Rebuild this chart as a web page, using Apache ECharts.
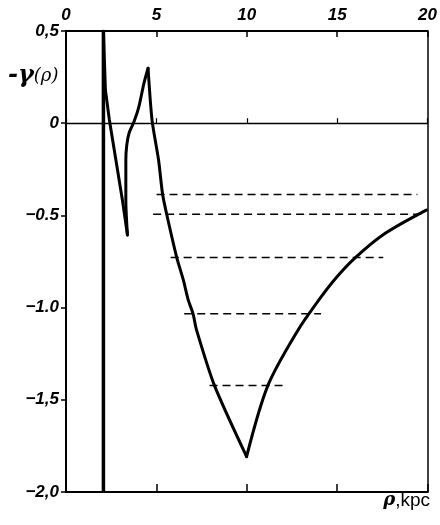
<!DOCTYPE html>
<html>
<head>
<meta charset="utf-8">
<script src="https://cdn.jsdelivr.net/npm/echarts@6/dist/echarts.min.js"></script>
<style>
html,body{margin:0;padding:0;background:#fff;}
#chart{width:440px;height:525px;}
</style>
</head>
<body>
<div id="chart"></div>
<script>
// ---- data ----
const xTickValues = [0, 5, 10, 15, 20];
const xTickLabels = ['0', '5', '10', '15', '20'];
const yTickValues = [0.5, 0, -0.5, -1, -1.5, -2];
const yTickLabels = ['0,5', '0', '\u22120.5', '\u22121.0', '\u22121,5', '\u22122,0'];

const barrierRho = 2.07;
const barrierGamma = [0.5, -2.0];

// curve branches (rho, -gamma)
const branch1Rho = [2.07, 2.18, 2.40, 2.76, 3.12, 3.40];
const branch1Gamma = [0.50, 0.18, 0.017, -0.20, -0.416, -0.606];
const branch2Rho = [3.40, 3.31, 3.31, 3.36, 3.49, 3.76, 4.03, 4.31, 4.54];
const branch2Gamma = [-0.606, -0.416, -0.20, -0.12, -0.053, 0.008, 0.089, 0.216, 0.298];
const branch3Rho = [4.54, 4.76, 5.12, 5.34, 5.57, 6.12, 6.49, 6.76, 7.03, 7.22, 8.21, 9.99];
const branch3Gamma = [0.298, 0.017, -0.20, -0.383, -0.494, -0.726, -0.85, -0.958, -1.034, -1.121, -1.422, -1.808];
const branch4Rho = [9.99, 11.17, 12.84, 13.9, 14.84, 16.02, 17.66, 19.93];
const branch4Gamma = [-1.808, -1.422, -1.121, -0.97, -0.85, -0.728, -0.597, -0.471];

const dashLevel = [-0.386, -0.494, -0.728, -1.034, -1.423];
const dashStart = [5.01, 4.82, 5.79, 6.54, 7.94];
const dashEnd   = [19.44, 19.84, 17.55, 14.11, 12.21];

// ---- chart ----
const chart = echarts.init(document.getElementById('chart'), null, {renderer: 'canvas'});
const numFont = '"Liberation Sans Narrow", "Liberation Sans", Arial, sans-serif';

const series = [];
series.push({
  type: 'line', xAxisIndex: 0, yAxisIndex: 0,
  data: barrierGamma.map(g => [barrierRho, g]),
  showSymbol: false, silent: true,
  lineStyle: {color: '#000', width: 3.5}
});
const branches = [
  [branch1Rho, branch1Gamma, 0],
  [branch2Rho, branch2Gamma, 0.3],
  [branch3Rho, branch3Gamma, 0.25],
  [branch4Rho, branch4Gamma, 0.3]
];
branches.forEach(([rs, gs, sm]) => {
  series.push({
    type: 'line', xAxisIndex: 0, yAxisIndex: 0,
    data: rs.map((r, i) => [r, gs[i]]),
    showSymbol: false, silent: true, smooth: sm,
    lineStyle: {color: '#000', width: 3, join: 'miter', miterLimit: 20, cap: 'round'}
  });
});
dashLevel.forEach((g, i) => {
  series.push({
    type: 'line', xAxisIndex: 0, yAxisIndex: 0,
    data: [[dashStart[i], g], [dashEnd[i], g]],
    showSymbol: false, silent: true,
    lineStyle: {color: '#000', width: 1.5, type: [8, 5]}
  });
});

const labelMap = (vals, labs) => v => {
  const k = vals.findIndex(t => Math.abs(t - v) < 1e-6);
  return k >= 0 ? labs[k] : '';
};

chart.setOption({
  animation: false,
  backgroundColor: '#fff',
  grid: {left: 66, right: 7, top: 31, bottom: 33, containLabel: false},
  xAxis: [
    {
      type: 'value', position: 'top', min: 0, max: 20, interval: 5,
      axisLine: {show: true, onZero: false, lineStyle: {color: '#000', width: 2}},
      axisTick: {show: true, inside: true, length: 6, lineStyle: {color: '#000', width: 1.5}},
      axisLabel: {show: true, margin: 7, color: '#000', fontFamily: numFont, fontStyle: 'italic', fontWeight: 'bold', fontSize: 17,
        formatter: labelMap(xTickValues, xTickLabels)},
      splitLine: {show: false}
    },
    {
      type: 'value', position: 'bottom', min: 0, max: 20, interval: 5,
      axisLine: {show: true, onZero: false, lineStyle: {color: '#000', width: 2}},
      axisTick: {show: true, inside: true, length: 8, lineStyle: {color: '#000', width: 1.5}},
      axisLabel: {show: false},
      splitLine: {show: false}
    },
    {
      type: 'value', position: 'bottom', min: 0, max: 20, interval: 5,
      axisLine: {show: true, onZero: true, onZeroAxisIndex: 0, lineStyle: {color: '#000', width: 1.3}},
      axisTick: {show: true, inside: true, length: 5, lineStyle: {color: '#000', width: 1.2}},
      axisLabel: {show: false},
      splitLine: {show: false}
    }
  ],
  yAxis: [
    {
      type: 'value', position: 'left', min: -2, max: 0.5, interval: 0.5,
      axisLine: {show: true, onZero: false, lineStyle: {color: '#000', width: 2}},
      axisTick: {show: true, inside: false, length: 5, lineStyle: {color: '#000', width: 1.5}},
      axisLabel: {show: true, margin: 7, color: '#000', fontFamily: numFont, fontStyle: 'italic', fontWeight: 'bold', fontSize: 17,
        formatter: labelMap(yTickValues, yTickLabels)},
      splitLine: {show: false}
    },
    {
      type: 'value', position: 'right', min: -2, max: 0.5, interval: 0.5,
      axisLine: {show: true, onZero: false, lineStyle: {color: '#000', width: 1.5}},
      axisTick: {show: false}, axisLabel: {show: false}, splitLine: {show: false}
    }
  ],
  graphic: [
    {
      type: 'text', left: 8, top: 64, silent: true,
      style: {
        text: '{a|-\u03B3}{b|(\u03C1)}',
        rich: {
          a: {fontFamily: '"DejaVu Serif", serif', fontStyle: 'italic', fontWeight: 'bold', fontSize: 24, fill: '#000'},
          b: {fontFamily: '"DejaVu Serif", serif', fontStyle: 'italic', fontSize: 18, fill: '#000'}
        }
      }
    },
    {
      type: 'text', right: 10, top: 491, silent: true,
      style: {
        text: '{a|\u03C1},{b|kpc}',
        fontFamily: '"Liberation Sans", Arial, sans-serif', fontSize: 19, fill: '#000',
        rich: {
          a: {fontFamily: '"DejaVu Serif", serif', fontStyle: 'italic', fontWeight: 'bold', fontSize: 18, fill: '#000'},
          b: {fontFamily: '"Liberation Sans", Arial, sans-serif', fontSize: 19, fill: '#000'}
        }
      }
    }
  ],
  series: series
});
</script>
</body>
</html>
